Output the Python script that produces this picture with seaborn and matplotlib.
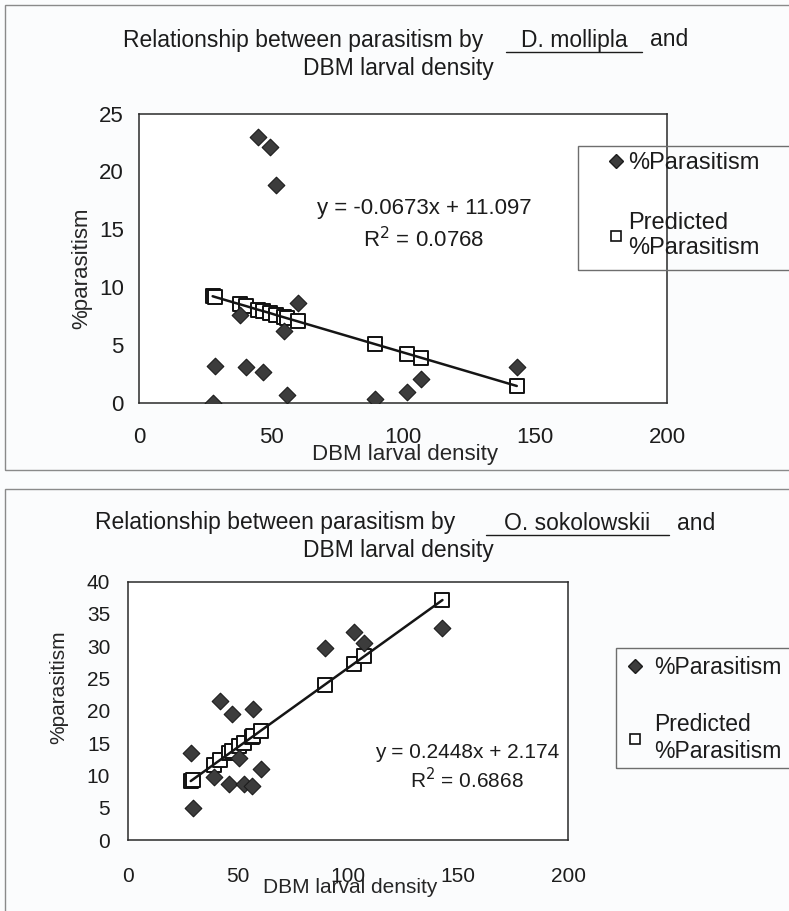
import matplotlib
matplotlib.use("Agg")
import matplotlib.pyplot as plt
import seaborn as sns
import pandas as pd
from matplotlib.lines import Line2D
from matplotlib.patches import Rectangle

# D. mollipla: larval density, observed and predicted % parasitism
density_moll = [27.9, 28.6, 38.1, 40.4, 44.9, 47.1, 49.8, 51.9, 54.9, 56.2, 60.1, 89.3, 101.5, 107.0, 143.1]
parasit_moll = [0.0, 3.2, 7.6, 3.1, 23.0, 2.7, 22.1, 18.8, 6.2, 0.66, 8.6, 0.34, 0.95, 2.07, 3.1]
predict_moll = [9.22, 9.17, 8.53, 8.38, 8.07, 7.93, 7.75, 7.60, 7.40, 7.31, 7.05, 5.09, 4.27, 3.90, 1.47]

# O. sokolowskii
density_soko = [28.4, 29.3, 38.8, 41.5, 45.9, 47.3, 50.5, 52.4, 56.2, 56.7, 60.3, 89.4, 102.6, 107.4, 142.9]
parasit_soko = [13.4, 4.9, 9.8, 21.6, 8.6, 19.5, 12.7, 8.7, 8.3, 20.3, 11.0, 29.7, 32.2, 30.5, 32.8]
predict_soko = [9.13, 9.35, 11.67, 12.33, 13.41, 13.75, 14.54, 15.00, 15.93, 16.05, 16.94, 24.06, 27.29, 28.47, 37.16]

x_ticks = [0, 50, 100, 150, 200]
y_ticks_moll = [0, 5, 10, 15, 20, 25]
y_ticks_soko = [0, 5, 10, 15, 20, 25, 30, 35, 40]

W, H = 789, 911
INK = "#1c1c1c"
BG = "#fbfcfd"

sns.set_style("white")
plt.rcParams["font.family"] = ["Liberation Sans", "DejaVu Sans"]
plt.rcParams["text.color"] = INK


def fx(x):
    return x / W


def fy(y):
    return 1 - y / H


def axes_px(left, top, right, bottom):
    return [fx(left), fy(bottom), (right - left) / W, (bottom - top) / H]


def box(left, top, right, bottom, color="#8a8a8a"):
    fig.add_artist(Rectangle((fx(left), fy(bottom)), (right - left) / W, (bottom - top) / H,
                             transform=fig.transFigure, fill=False, edgecolor=color, lw=1.0))


fig = plt.figure(figsize=(W / 100, H / 100), dpi=100, facecolor=BG)

# grey chart-area frames
box(5, 5, 800, 470)
box(5, 489, 800, 960)


def title(y1, y2, start, species, sp_c, and_x, ul, fs=16.5):
    fig.text(fx(start), fy(y1), "Relationship between parasitism by", ha="left", va="center", fontsize=fs)
    fig.text(fx(sp_c), fy(y1), species, ha="center", va="center", fontsize=fs)
    fig.text(fx(and_x), fy(y1), "and", ha="left", va="center", fontsize=fs)
    fig.add_artist(Line2D([fx(ul[0]), fx(ul[1])], [fy(y1 + 12)] * 2, transform=fig.transFigure,
                          color=INK, lw=1.0))
    fig.text(fx(398), fy(y2), "DBM larval density", ha="center", va="center", fontsize=fs)


def panel(rect, dens, obs, pred, yticks, fs, eq, r2, eq_pos, xlab_pos, ylab_pos, xpad, ypad,
          leg_frame, leg_anchor, leg_fs, leg_hl, leg_tp, leg_ls):
    ax = fig.add_axes(rect)
    ax.set_facecolor("white")
    df = pd.DataFrame({"density": dens, "obs": obs, "pred": pred})

    sns.scatterplot(data=df, x="density", y="pred", marker="s", s=110, color="white",
                    edgecolor="#111111", linewidth=1.4, ax=ax, zorder=3)
    sns.lineplot(data=df, x="density", y="pred", color="#151515", lw=1.8, ax=ax,
                 estimator=None, sort=True, zorder=4)
    sns.scatterplot(data=df, x="density", y="obs", marker="D", s=72, color="#3c3c3c",
                    edgecolor="#1c1c1c", linewidth=0.8, ax=ax, zorder=5)

    ax.set_xlim(0, 200)
    ax.set_ylim(0, yticks[-1])
    ax.set_xticks(x_ticks)
    ax.set_yticks(yticks)
    ax.tick_params(axis="x", direction="inout", length=7, width=1, pad=xpad, labelsize=fs, colors=INK)
    ax.tick_params(axis="y", direction="out", length=5, width=1, pad=ypad, labelsize=fs, colors=INK)
    for sp in ax.spines.values():
        sp.set_color("#2a2a2a")
        sp.set_linewidth(1.1)

    ax.set_xlabel("DBM larval density", fontsize=fs)
    ax.set_ylabel("%parasitism", fontsize=fs)
    ax.xaxis.set_label_coords(*xlab_pos)
    ax.yaxis.set_label_coords(*ylab_pos)

    ax.text(eq_pos[0], eq_pos[1], eq, ha="center", va="center", fontsize=fs)
    ax.text(eq_pos[0], eq_pos[2], r2, ha="center", va="center", fontsize=fs)

    # legend frame drawn separately so the padding can match the original
    box(*leg_frame, color="#6e6e6e")
    handles = [
        Line2D([], [], marker="D", ls="", mfc="#3c3c3c", mec="#1c1c1c", ms=7.5),
        Line2D([], [], marker="s", ls="", mfc="white", mec="#111111", ms=7.5, mew=1.2),
    ]
    ax.legend(handles, ["%Parasitism", "Predicted\n%Parasitism"], loc="upper left",
              bbox_to_anchor=(fx(leg_anchor[0]), fy(leg_anchor[1])), bbox_transform=fig.transFigure,
              frameon=False, borderaxespad=0, borderpad=0, handletextpad=leg_tp,
              handlelength=leg_hl, labelspacing=leg_ls, fontsize=leg_fs)
    return ax


title(40, 69, 123, "D. mollipla", 574, 650, (506, 642))
panel(axes_px(139, 113.5, 667, 403), density_moll, parasit_moll, predict_moll, y_ticks_moll, 16,
      "y = -0.0673x + 11.097", "R$^2$ = 0.0768", (108, 16.8, 14.1),
      (0.504, -0.142), (-0.089, 0.466), 14, 6,
      (578, 146, 820, 270), (605, 152), 17, 0.9, 0.1, 1.6)

title(523, 551, 95, "O. sokolowskii", 577, 677, (486, 669))
panel(axes_px(128.3, 581.7, 568, 840), density_soko, parasit_soko, predict_soko, y_ticks_soko, 15,
      "y = 0.2448x + 2.174", "R$^2$ = 0.6868", (154, 13.6, 9.3),
      (0.504, -0.147), (-0.136, 0.592), 16, 8,
      (616, 648, 820, 768), (626, 656), 16.5, 0.8, 0.44, 1.5)

fig.savefig("out.png", dpi=100, facecolor=BG)
